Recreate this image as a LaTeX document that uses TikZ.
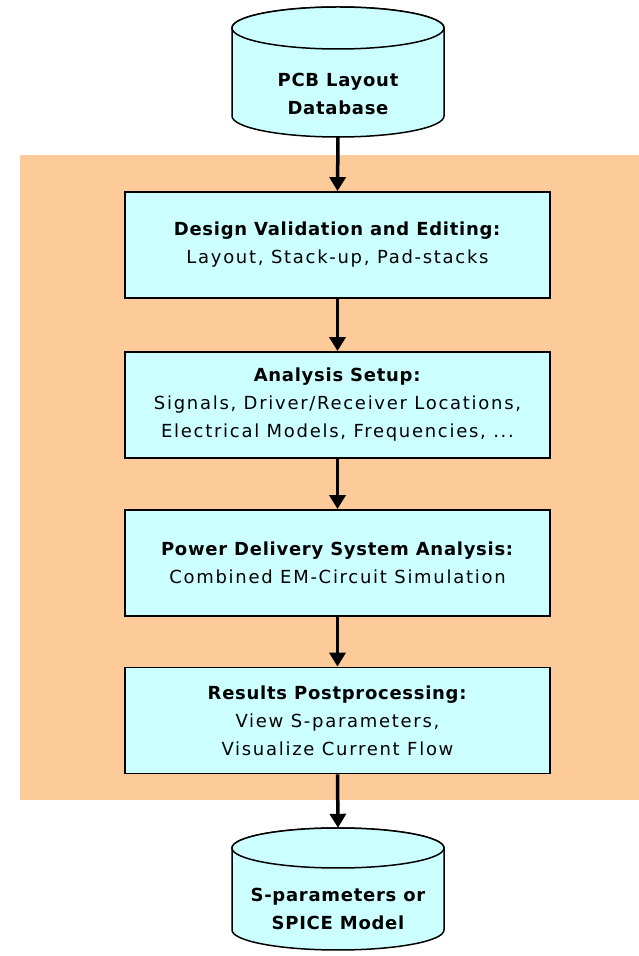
\documentclass[tikz,border=0pt]{standalone}
\usepackage{fontspec}
\setmainfont{DejaVu Sans}[LetterSpace=9.5, BoldFeatures={LetterSpace=4}]
\usetikzlibrary{arrows.meta}
\definecolor{peach}{RGB}{253,203,153}
\definecolor{boxcyan}{RGB}{204,255,255}
\tikzset{
  stepbox/.style={draw=black, line width=1.8pt, fill=boxcyan, minimum width=425pt, minimum height=106pt, inner sep=0pt, align=center, font=\fontsize{18}{28}\selectfont},
  flow/.style={line width=3.5pt, -{Triangle[width=16pt,length=14pt]}},
  cyl/.style={draw=black, line width=1.5pt, fill=boxcyan},
  cyltext/.style={align=center, font=\fontsize{18}{28}\selectfont\bfseries},
  anchorbox/.style={minimum width=212pt, inner sep=0pt}
}
\begin{document}
\begin{tikzpicture}[x=1pt,y=1pt]
\useasboundingbox (0,0) rectangle (639,956);
% background band
\fill[peach] (20,156) rectangle (639,801);
% top cylinder
\path[cyl] (232,928) -- (232,840) arc[start angle=180,end angle=360,x radius=106,y radius=21] -- (444,928) arc[start angle=0,end angle=180,x radius=106,y radius=21] -- cycle;
\draw[cyl] (338,928) ellipse[x radius=106,y radius=21];
\node[anchorbox, minimum height=130pt] (db1) at (338,884) {};
\node[cyltext] (t1) at (338,862) {PCB Layout\\Database};
% bottom cylinder
\path[cyl] (232,108) -- (232,26) arc[start angle=180,end angle=360,x radius=106,y radius=20] -- (444,108) arc[start angle=0,end angle=180,x radius=106,y radius=20] -- cycle;
\draw[cyl] (338,108) ellipse[x radius=106,y radius=20];
\node[anchorbox, minimum height=122pt] (db2) at (338,67) {};
\node[cyltext] (t2) at (338,47) {S-parameters or\\SPICE Model};
% boxes
\node[stepbox] (b1) at (337.5,711) {\textbf{Design Validation and Editing:}\\Layout, Stack-up, Pad-stacks};
\node[stepbox] (b2) at (337.5,551) {\textbf{Analysis Setup:}\\Signals, Driver/Receiver Locations,\\Electrical Models, Frequencies, ...};
\node[stepbox] (b3) at (337.5,393) {\textbf{Power Delivery System Analysis:}\\Combined EM-Circuit Simulation};
\node[stepbox] (b4) at (337.5,235.5) {\textbf{Results Postprocessing:}\\View S-parameters,\\Visualize Current Flow};
% arrows
\draw[flow] (db1.south) -- (b1.north);
\draw[flow] (b1.south) -- (b2.north);
\draw[flow] (b2.south) -- (b3.north);
\draw[flow] (b3.south) -- (b4.north);
\draw[flow] (b4.south) -- (db2.north);
\end{tikzpicture}
\end{document}
